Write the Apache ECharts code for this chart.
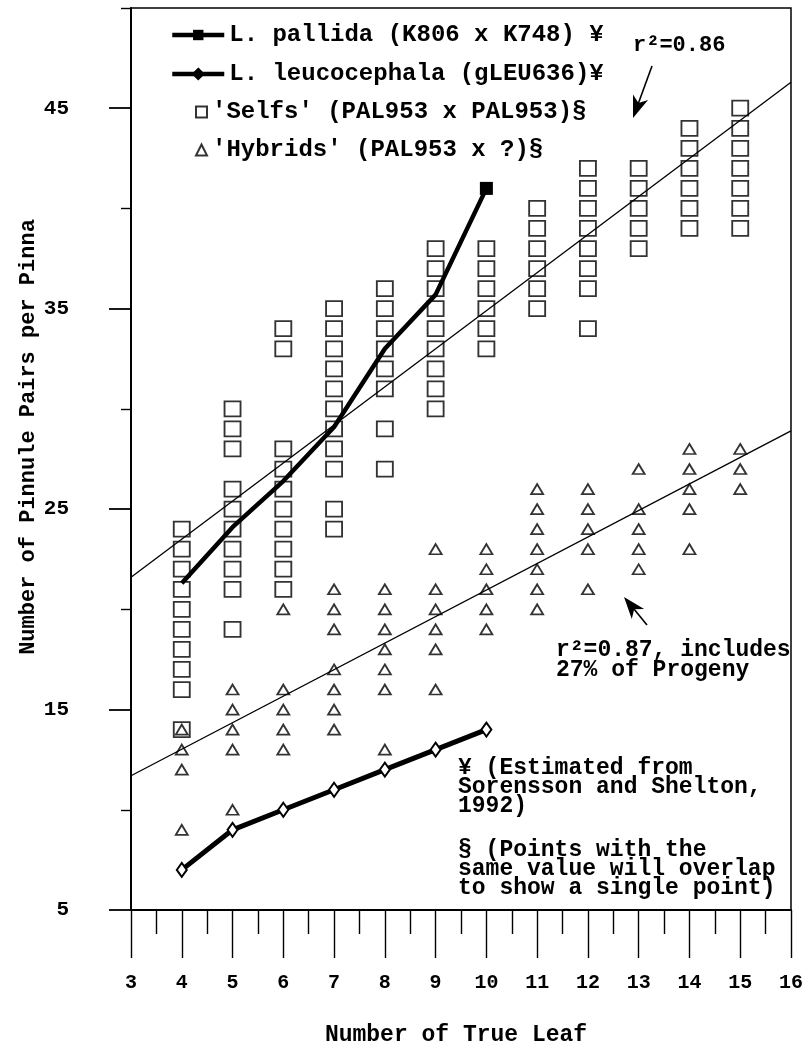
<!DOCTYPE html>
<html><head><meta charset="utf-8">
<script src="https://cdn.jsdelivr.net/npm/echarts@6/dist/echarts.min.js"></script>
<style>html,body{margin:0;padding:0;background:#fff}#c{width:806px;height:1045px}</style>
</head><body><div id="c"></div>
<script>
// ---- data ----
const leafNumbers = [4,5,6,7,8,9,10,11,12,13,14,15];
const selfsPerLeaf = [
  [24,23,22,21,20,19,18,17,16,14],
  [30,29,28,26,25,24,23,22,21,19],
  [34,33,28,27,26,25,24,23,22,21],
  [35,34,33,32,31,30,29,28,27,25,24],
  [36,35,34,33,32,31,29,27],
  [38,37,36,35,34,33,32,31,30],
  [38,37,36,35,34,33],
  [40,39,38,37,36,35],
  [42,41,40,39,38,37,36,34],
  [42,41,40,39,38],
  [44,43,42,41,40,39],
  [45,44,43,42,41,40,39]
];
const hybridsPerLeaf = [
  [14,13,12,9],
  [16,15,14,13,10],
  [20,16,15,14,13],
  [21,20,19,17,16,15,14],
  [21,20,19,18,17,16,13],
  [23,21,20,19,18,16],
  [23,22,21,20,19],
  [26,25,24,23,22,21,20],
  [26,25,24,23,21],
  [27,25,24,23,22],
  [28,27,26,25,23],
  [28,27,26]
];
const pallidaLeaf = [4,5,6,7,8,9,10];
const pallidaPairs = [21.3,24.1,26.4,29.1,33,35.7,41];
const leucoLeaf = [4,5,6,7,8,9,10];
const leucoPairs = [7,9,10,11,12,13,14];
const selfsFitLeaf = [3,16];
const selfsFitPairs = [21.6,46.3];
const hybridsFitLeaf = [3,16];
const hybridsFitPairs = [11.7,28.9];
const yMajorTicks = [5,15,25,35,45];
const yMinorTicks = [10,20,30,40,50];

const names = {
  pallida: 'L. pallida (K806 x K748) ¥',
  leuco: 'L. leucocephala (gLEU636)¥',
  selfs: "'Selfs' (PAL953 x PAL953)§",
  hybrids: "'Hybrids' (PAL953 x ?)§"
};

const FONT = "'Liberation Mono', 'DejaVu Sans Mono', monospace";

function columns(perLeaf) {
  const out = [];
  perLeaf.forEach((vals, i) => vals.forEach(v => out.push([leafNumbers[i], v])));
  return out;
}
function pairs(xs, ys) { return xs.map((x, i) => [x, ys[i]]); }

const pallidaData = pairs(pallidaLeaf, pallidaPairs).map((p, i, a) =>
  i === a.length - 1 ? { value: p, symbolSize: 13 } : p);

function arrow(tail, tip) {
  const dx = tip[0] - tail[0], dy = tip[1] - tail[1];
  const len = Math.hypot(dx, dy);
  const ux = dx / len, uy = dy / len, px = -uy, py = ux;
  const L = 22, W = 8, N = 6;
  const bx = tip[0] - ux * L, by = tip[1] - uy * L;
  const nx = tip[0] - ux * (L - N), ny = tip[1] - uy * (L - N);
  return [
    { type: 'line', shape: { x1: tail[0], y1: tail[1], x2: nx, y2: ny }, style: { stroke: '#000', lineWidth: 1.6 } },
    { type: 'polygon', shape: { points: [tip, [bx + px * W, by + py * W], [nx, ny], [bx - px * W, by - py * W]] }, style: { fill: '#000' } }
  ];
}

function txt(x, y, text, size, extra) {
  return Object.assign({ type: 'text', x: x, y: y, style: {
    text: text, fill: '#000', font: 'bold ' + size + 'px ' + FONT,
    textAlign: 'left', textVerticalAlign: 'middle', align: 'left', verticalAlign: 'middle' } }, extra || {});
}

const chart = echarts.init(document.getElementById('c'), null, { renderer: 'canvas' });
chart.setOption({
  animation: false,
  backgroundColor: '#fff',
  grid: { left: 131, right: 9, top: 8, bottom: 135, show: true, borderColor: '#000', borderWidth: 1.5, containLabel: false },
  xAxis: {
    type: 'value', min: 3, max: 16, interval: 1,
    axisLine: { show: true, onZero: false, lineStyle: { color: '#000', width: 2 } },
    axisTick: { show: true, inside: false, length: 48, lineStyle: { color: '#000', width: 1.4 } },
    minorTick: { show: true, splitNumber: 2, length: 24, lineStyle: { color: '#000', width: 1.4 } },
    axisLabel: { margin: 63, color: '#000', fontFamily: FONT, fontWeight: 'bold', fontSize: 20 },
    splitLine: { show: false }, minorSplitLine: { show: false }
  },
  yAxis: [
    {
      type: 'value', min: 5, max: 50, interval: 5, position: 'left',
      axisLine: { show: true, onZero: false, lineStyle: { color: '#000', width: 2 } },
      axisTick: { show: true, inside: false, length: 10, customValues: yMinorTicks, lineStyle: { color: '#000', width: 1.4 } },
      axisLabel: { show: false },
      splitLine: { show: false }
    },
    {
      type: 'value', min: 5, max: 50, interval: 5, position: 'left',
      axisLine: { show: false, onZero: false },
      axisTick: { show: true, inside: false, length: 22, customValues: yMajorTicks, lineStyle: { color: '#000', width: 1.8 } },
      axisLabel: { show: true, customValues: yMajorTicks, margin: 62, color: '#000', fontFamily: FONT, fontWeight: 'bold', fontSize: 21 },
      splitLine: { show: false }
    }
  ],
  legend: [
    {
      data: [
        { name: names.pallida },
        { name: names.leuco, itemStyle: { color: '#000', borderColor: '#000' } }
      ],
      orient: 'vertical', left: 165, top: 18,
      itemWidth: 52, itemHeight: 13, itemGap: 15, selectedMode: false,
      lineStyle: { width: 4.5, color: '#000' },
      textStyle: { color: '#000', fontFamily: FONT, fontWeight: 'bold', fontSize: 24 }
    },
    {
      data: [names.selfs, names.hybrids], orient: 'vertical', left: 190, top: 95,
      itemWidth: 11, itemHeight: 11, itemGap: 14, selectedMode: false,
      textStyle: { color: '#000', fontFamily: FONT, fontWeight: 'bold', fontSize: 24 }
    }
  ],
  series: [
    {
      name: names.selfs, type: 'scatter', data: columns(selfsPerLeaf), symbol: 'rect', symbolSize: [16, 15],
      itemStyle: { color: 'rgba(0,0,0,0)', borderColor: '#000', borderWidth: 1.8 }, z: 2
    },
    {
      name: names.hybrids, type: 'scatter', data: columns(hybridsPerLeaf), symbol: 'triangle', symbolSize: [12, 10],
      itemStyle: { color: 'rgba(0,0,0,0)', borderColor: '#000', borderWidth: 1.8 }, z: 2
    },
    {
      name: 'selfsFit', type: 'line', data: pairs(selfsFitLeaf, selfsFitPairs), symbol: 'none',
      lineStyle: { color: '#000', width: 1.3 }, silent: true, z: 3
    },
    {
      name: 'hybridsFit', type: 'line', data: pairs(hybridsFitLeaf, hybridsFitPairs), symbol: 'none',
      lineStyle: { color: '#000', width: 1.3 }, silent: true, z: 3
    },
    {
      name: names.leuco, type: 'line', data: pairs(leucoLeaf, leucoPairs), symbol: 'diamond', symbolSize: [10, 14],
      showAllSymbol: true, color: '#000',
      lineStyle: { color: '#000', width: 5 },
      itemStyle: { color: '#fff', borderColor: '#000', borderWidth: 2 }, z: 4
    },
    {
      name: names.pallida, type: 'line', data: pallidaData, symbol: 'rect', symbolSize: 0,
      showAllSymbol: true, color: '#000',
      lineStyle: { color: '#000', width: 4.5 },
      itemStyle: { color: '#000' }, z: 4
    }
  ],
  graphic: [
    { type: 'text', x: 28, y: 437, rotation: Math.PI / 2, style: {
      text: 'Number of Pinnule Pairs per Pinna', fill: '#000', font: 'bold 22px ' + FONT,
      align: 'center', verticalAlign: 'middle', textAlign: 'center', textVerticalAlign: 'middle' } },
    { type: 'text', x: 456, y: 1035, style: { text: 'Number of True Leaf', fill: '#000', font: 'bold 23px ' + FONT,
      align: 'center', verticalAlign: 'middle', textAlign: 'center', textVerticalAlign: 'middle' } },
    txt(633, 45, 'r²=0.86', 22),
    ...arrow([652, 66], [633, 118]),
    txt(556, 650, 'r²=0.87, includes', 23),
    txt(556, 670, '27% of Progeny', 23),
    ...arrow([647, 625], [624, 597]),
    txt(458, 768, '¥ (Estimated from', 23),
    txt(458, 787, 'Sorensson and Shelton,', 23),
    txt(458, 806, '1992)', 23),
    txt(458, 850, '§ (Points with the', 23),
    txt(458, 869, 'same value will overlap', 23),
    txt(458, 888, 'to show a single point)', 23)
  ]
});
</script>
</body></html>
